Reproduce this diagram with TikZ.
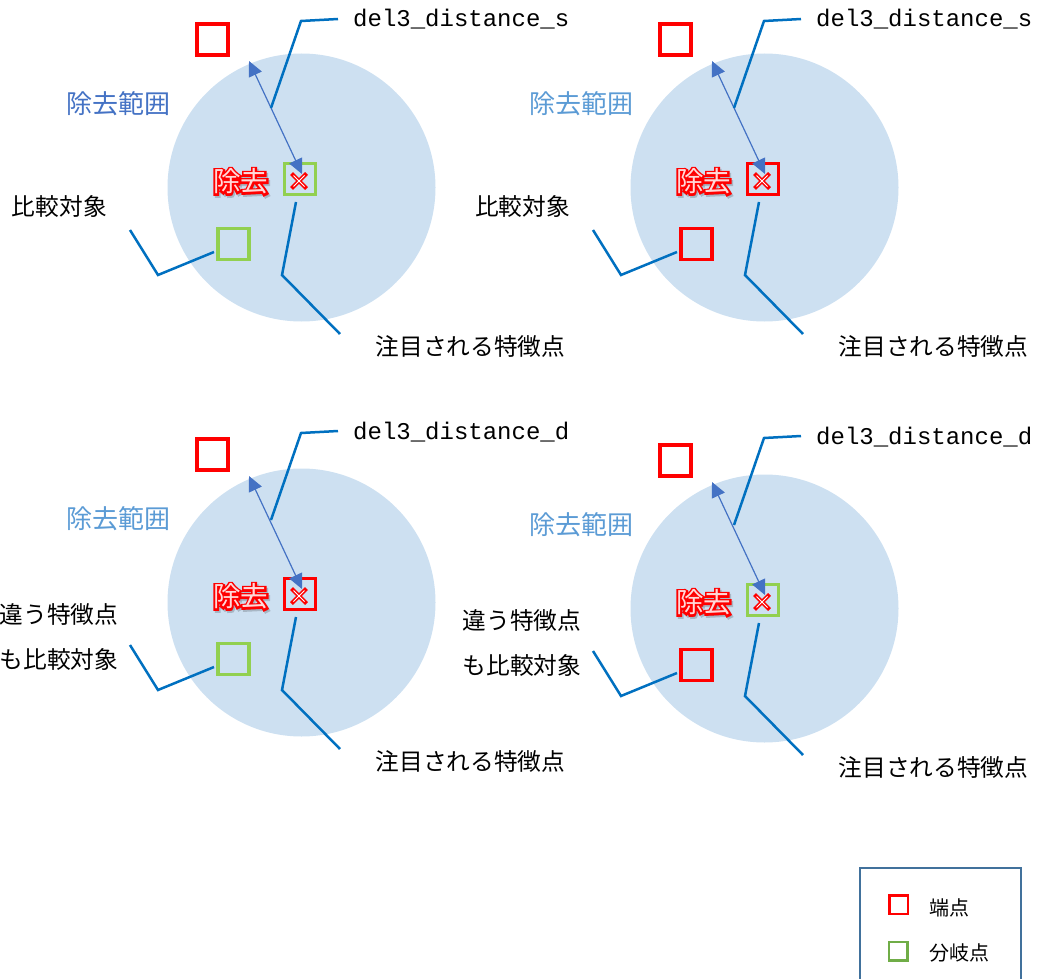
\documentclass[tikz,border=0pt]{standalone}
\usepackage{fontspec}
\usetikzlibrary{arrows.meta}
\newfontfamily\jp{Noto Sans CJK JP}
\newfontfamily\jpfb[FakeBold=14]{Noto Sans CJK JP}
\newfontfamily\mono{Liberation Mono}
\definecolor{circfill}{RGB}{205,224,241}
\definecolor{callout}{RGB}{0,112,192}
\definecolor{arrblue}{RGB}{68,114,196}
\definecolor{rngdark}{RGB}{68,114,196}
\definecolor{rnglight}{RGB}{91,155,213}
\definecolor{grnsq}{RGB}{146,208,80}
\definecolor{grnleg}{RGB}{112,173,71}
\definecolor{legbox}{RGB}{65,113,156}
\tikzset{
  sq/.style={draw, line width=3.5pt, minimum size=31pt, inner sep=0pt},
  callline/.style={draw=callout, line width=2.5pt},
  arr/.style={arrblue, line width=1.2pt, {Triangle[length=15pt,width=14pt]}-{Triangle[length=15pt,width=14pt]}},
  jplabel/.style={font={\jp\fontsize{23.7}{28}\selectfont}, inner sep=0pt, text=black},
  monolabel/.style={font={\mono\fontsize{24}{28}\selectfont}, inner sep=0pt, text=black},
  rangelabel/.style={font={\jp\fontsize{26}{30}\selectfont}, inner sep=0pt},
  deltxt/.style={font={\jpfb\fontsize{27.5}{30}\selectfont}, inner sep=0pt, text=red},
  delcore/.style={font={\jp\fontsize{27.5}{30}\selectfont}, inner sep=0pt, text=white, text opacity=0.85},
  delshadow/.style={font={\jpfb\fontsize{27.5}{30}\selectfont}, inner sep=0pt, text=black, text opacity=0.18},
  legtxt/.style={font={\jp\fontsize{20}{24}\selectfont}, inner sep=0pt, text=black},
}
% #1 prefix, #2 dx, #3 dy, #4 centre square colour, #5 lower square colour,
% #6 range colour, #7 distance label, #8 extra dy of distance callout, #9 left label code
\newcommand\mypanel[9]{%
\begin{scope}[shift={(#2,#3)}]
  \node[circle, fill=circfill, minimum size=268pt, inner sep=0pt] (#1c) at (301.5,187.5) {};
  \node[sq, draw=red] (#1t) at (212.5,39.5) {};
  \node[rangelabel, text=#6] (#1r) at (118.5,103.5) {除去範囲};
  \node[delshadow] (#1ds) at (242,183.5) {除去};
  \node[deltxt] (#1d) at (240.5,181.5) {除去};
  \node[delcore] (#1dw) at (240.5,181.5) {除去};
  \node[sq, draw=#4] (#1m) at (300,179) {};
  \node[sq, draw=#5] (#1b) at (233.5,244) {};
  \draw[red, line width=4pt] (291.5,173.5) -- (306.5,188.5) (291.5,188.5) -- (306.5,173.5);
  \draw[white, line width=1pt] (293.5,175.5) -- (304.5,186.5) (293.5,186.5) -- (304.5,175.5);
  \coordinate (#1a1) at (249,61);
  \coordinate (#1a2) at (302,174);
  \draw[arr] (#1a1) -- (#1a2);
  \coordinate (#1q1) at (296,202);
  \coordinate (#1q2) at (282,275);
  \coordinate (#1q3) at (340,334);
  \draw[callline] (#1q1) -- (#1q2) -- (#1q3);
  \node[jplabel] (#1qt) at (470.5,346.5) {注目される特徴点};
  \coordinate (#1l1) at (214,252);
  \coordinate (#1l2) at (158,275);
  \coordinate (#1l3) at (130,230);
  \draw[callline] (#1l1) -- (#1l2) -- (#1l3);
  #9
  \begin{scope}[shift={(0,#8)}]
    \coordinate (#1p1) at (271,108);
    \coordinate (#1p2) at (301,21);
    \coordinate (#1p3) at (338,19);
    \draw[callline] (#1p1) -- (#1p2) -- (#1p3);
    \node[monolabel, anchor=base west] (#1pt) at (353,27) {#7};
  \end{scope}
\end{scope}}

\begin{document}
\begin{tikzpicture}[x=1pt,y=-1pt]
\useasboundingbox (0,0) rectangle (1037,979);
\mypanel{a}{0}{0}{grnsq}{grnsq}{rngdark}{del3\_distance\_s}{0}
  {\node[jplabel, anchor=east] (alt) at (107,206) {比較対象};}
\mypanel{b}{463}{0}{red}{red}{rnglight}{del3\_distance\_s}{0}
  {\node[jplabel, anchor=east] (blt) at (107,206) {比較対象};}
\mypanel{c}{0}{415}{red}{grnsq}{rnglight}{del3\_distance\_d}{-3}
  {\node[jplabel, anchor=east] (clt1) at (118.5,200) {違う特徴点};
   \node[jplabel, anchor=east] (clt2) at (118.5,244) {も比較対象};}
\mypanel{d}{463}{421}{grnsq}{red}{rnglight}{del3\_distance\_d}{-4}
  {\node[jplabel, anchor=east] (dlt1) at (118.5,200) {違う特徴点};
   \node[jplabel, anchor=east] (dlt2) at (118.5,244) {も比較対象};}
% legend
\node[draw=legbox, line width=2pt, minimum width=161pt, minimum height=125pt, inner sep=0pt, anchor=north west] (leg) at (859,867) {};
\node[sq, line width=2.5pt, minimum size=18.5pt, draw=red] (legr) at (898.5,904.5) {};
\node[sq, line width=2.5pt, minimum size=18.5pt, draw=grnleg] (legg) at (898,951) {};
\node[legtxt] (legrt) at (949,908) {端点};
\node[legtxt] (leggt) at (959,953) {分岐点};
\end{tikzpicture}
\end{document}
